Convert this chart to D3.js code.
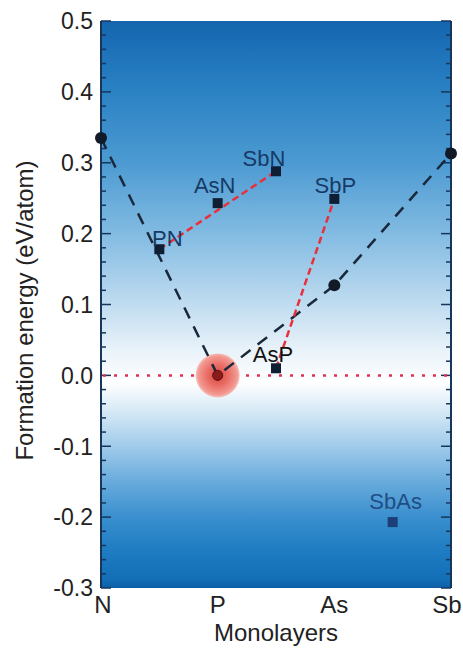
<!DOCTYPE html>
<html>
<head>
<meta charset="utf-8">
<script src="https://cdn.jsdelivr.net/npm/d3@7"></script>
<style>
  html, body { margin: 0; padding: 0; background: #fff; }
  svg { display: block; font-family: "Liberation Sans", Arial, sans-serif; }
</style>
</head>
<body>
<svg id="chart"></svg>
<script>
// elemental monolayers (convex hull)
const elements = ["N", "P", "As", "Sb"];
const elementPos = [0, 1, 2, 3];
const elementEnergy = [0.335, 0.0, 0.127, 0.313];

// binary compounds
const compounds = ["PN", "AsN", "SbN", "AsP", "SbP", "SbAs"];
const compoundPos = [0.5, 1.0, 1.5, 1.5, 2.0, 2.5];
const compoundEnergy = [0.178, 0.243, 0.288, 0.010, 0.249, -0.207];

// red dashed connections (by compound name)
const links = [["PN", "SbN"], ["AsP", "SbP"]];

const yTicks = [-0.3, -0.2, -0.1, 0.0, 0.1, 0.2, 0.3, 0.4, 0.5];

const fn = (() => {
    const width = 463, height = 650;
    const margin = { top: 21, right: 12, bottom: 62, left: 101 };

    const x = d3.scaleLinear([0, 3], [margin.left, width - margin.right]);
    const y = d3.scaleLinear([-0.3, 0.5], [height - margin.bottom, margin.top]);

    const svg = d3.select("#chart").attr("width", width).attr("height", height);
    const defs = svg.append("defs");

    // background gradient: dark blue top / bottom, white near zero
    const bg = defs.append("linearGradient")
        .attr("id", "bg")
        .attr("gradientUnits", "userSpaceOnUse")
        .attr("x1", 0).attr("x2", 0)
        .attr("y1", y(0.5)).attr("y2", y(-0.3));
    const bgStops = [
        [0.5, "#1465ad"], [0.45, "#1f74ba"], [0.4, "#2b82c3"], [0.3, "#4c9ad2"],
        [0.2, "#82bbe2"], [0.1, "#c0dcf0"], [0.04, "#e6f1f9"], [-0.01, "#ffffff"],
        [-0.05, "#d6e9f6"], [-0.1, "#a0cbea"], [-0.15, "#68abdc"], [-0.2, "#3a8fce"],
        [-0.25, "#1d7bc1"], [-0.29, "#126db5"], [-0.3, "#0e5ea6"]
    ];
    bg.selectAll("stop")
        .data(bgStops)
        .join("stop")
        .attr("offset", d => (y(d[0]) - y(0.5)) / (y(-0.3) - y(0.5)))
        .attr("stop-color", d => d[1]);

    const glow = defs.append("radialGradient").attr("id", "glow");
    glow.append("stop").attr("offset", 0).attr("stop-color", "#d8443f");
    glow.append("stop").attr("offset", 0.5).attr("stop-color", "#ea6f68");
    glow.append("stop").attr("offset", 0.88).attr("stop-color", "#f29a92");
    glow.append("stop").attr("offset", 1).attr("stop-color", "#f6b6ae").attr("stop-opacity", 0.85);

    svg.append("rect")
        .attr("x", x(0)).attr("y", y(0.5))
        .attr("width", x(3) - x(0))
        .attr("height", y(-0.3) - y(0.5))
        .attr("fill", "url(#bg)");

    // axes: ticks inside on both sides
    const minor = d3.range(-0.3, 0.5001, 0.02).map(v => Math.round(v * 100) / 100);
    const axisColor = "#17365c";
    [[x(0), 1], [x(3), -1]].forEach(([ax, dir]) => {
        const g = svg.append("g").attr("stroke", axisColor);
        g.append("line")
            .attr("x1", ax).attr("x2", ax)
            .attr("y1", y(0.5)).attr("y2", y(-0.3))
            .attr("stroke-width", 2);
        g.selectAll("line.tick")
            .data(minor)
            .join("line")
            .attr("class", "tick")
            .attr("x1", ax)
            .attr("x2", d => ax + dir * (Math.abs(d * 10 - Math.round(d * 10)) < 1e-6 ? 10 : 5))
            .attr("y1", d => y(d)).attr("y2", d => y(d))
            .attr("stroke-width", 1.5);
    });

    const fmt = d3.format(".1f");
    svg.append("g")
        .attr("font-size", 23)
        .attr("fill", "#222")
        .attr("text-anchor", "end")
        .selectAll("text")
        .data(yTicks)
        .join("text")
        .attr("x", x(0) - 8)
        .attr("y", d => y(d))
        .attr("dy", "0.36em")
        .text(d => fmt(d).replace("\u2212", "-"));

    svg.append("g")
        .attr("font-size", 24)
        .attr("fill", "#222")
        .attr("text-anchor", "middle")
        .selectAll("text")
        .data(elements)
        .join("text")
        .attr("x", (d, i) => x(elementPos[i]) + (i === 0 ? 2 : i === 3 ? -4 : 0))
        .attr("y", 613)
        .text(d => d);

    svg.append("text")
        .attr("x", (x(0) + x(3)) / 2)
        .attr("y", 641)
        .attr("text-anchor", "middle")
        .attr("font-size", 24)
        .attr("fill", "#222")
        .text("Monolayers");

    svg.append("text")
        .attr("transform", `translate(33,${(y(0.5) + y(-0.3)) / 2 + 6}) rotate(-90)`)
        .attr("text-anchor", "middle")
        .attr("font-size", 24)
        .attr("fill", "#222")
        .text("Formation energy (eV/atom)");

    // zero reference line
    svg.append("line")
        .attr("x1", x(0) + 2).attr("x2", x(3))
        .attr("y1", y(0)).attr("y2", y(0))
        .attr("stroke", "#e0304e")
        .attr("stroke-width", 2.5)
        .attr("stroke-dasharray", "3,8");

    // highlight at P
    svg.append("circle")
        .attr("cx", x(1)).attr("cy", y(0))
        .attr("r", 22)
        .attr("fill", "url(#glow)");

    // convex hull dashed line
    const hull = elementPos.map((p, i) => [p, elementEnergy[i]]);
    svg.append("path")
        .datum(hull)
        .attr("fill", "none")
        .attr("stroke", "#19293b")
        .attr("stroke-width", 2.5)
        .attr("stroke-dasharray", "12,9")
        .attr("d", d3.line().x(d => x(d[0])).y(d => y(d[1])));

    svg.append("g")
        .selectAll("circle")
        .data(hull)
        .join("circle")
        .attr("cx", d => x(d[0]))
        .attr("cy", d => y(d[1]))
        .attr("r", (d, i) => i === 1 ? 5 : 6)
        .attr("fill", (d, i) => i === 1 ? "#8a1c1c" : "#111a26")
        .attr("stroke", (d, i) => i === 1 ? "#5a0f0f" : "none")
        .attr("stroke-width", 1);

    // compounds
    const comp = compounds.map((name, i) => ({ name, p: compoundPos[i], e: compoundEnergy[i] }));
    const byName = new Map(comp.map(d => [d.name, d]));

    svg.append("g")
        .attr("fill", "none")
        .attr("stroke", "#e8303c")
        .attr("stroke-width", 2.5)
        .attr("stroke-dasharray", "7,4")
        .selectAll("line")
        .data(links)
        .join("line")
        .attr("x1", d => x(byName.get(d[0]).p))
        .attr("y1", d => y(byName.get(d[0]).e))
        .attr("x2", d => x(byName.get(d[1]).p))
        .attr("y2", d => y(byName.get(d[1]).e));

    const sq = 10;
    svg.append("g")
        .selectAll("rect")
        .data(comp)
        .join("rect")
        .attr("x", d => x(d.p) - sq / 2)
        .attr("y", d => y(d.e) - sq / 2)
        .attr("width", sq).attr("height", sq)
        .attr("fill", d => d.name === "SbAs" ? "#1d3f78" : "#0f1e33");

    const labelOffset = {
        PN: [8, -3], AsN: [-3, -10], SbN: [-12, -5],
        AsP: [-3, -6], SbP: [1, -6], SbAs: [3, -13]
    };
    svg.append("g")
        .attr("font-size", 22)
        .attr("text-anchor", "middle")
        .selectAll("text")
        .data(comp)
        .join("text")
        .attr("x", d => x(d.p) + labelOffset[d.name][0])
        .attr("y", d => y(d.e) + labelOffset[d.name][1])
        .attr("fill", d => d.name === "AsP" ? "#111" : d.name === "SbAs" ? "#1f4e86" : "#173a66")
        .text(d => d.name);

    return svg.node();
});
fn();
</script>
</body>
</html>
